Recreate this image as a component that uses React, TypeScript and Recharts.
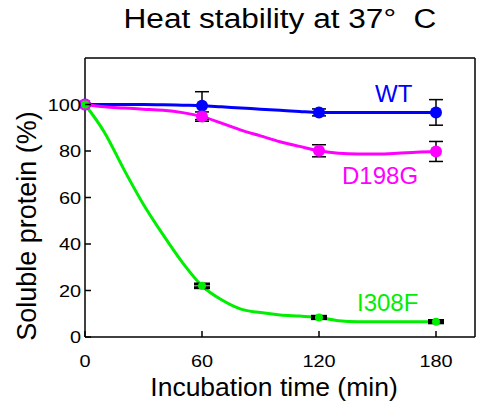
import React from 'react';
import { ComposedChart, Line, Scatter, ErrorBar, XAxis, YAxis, ReferenceLine } from 'recharts';

// measured points (time in min, soluble protein %, error)
const times = [0, 60, 120, 180];
const wtValues = [100, 99.5, 96.6, 96.6];
const wtErrors = [0, 6, 1.5, 5.5];
const d198gValues = [100, 94.8, 80.1, 79.8];
const d198gErrors = [0, 2, 2.6, 4.3];
const i308fValues = [100, 22, 8.4, 6.6];
const i308fErrors = [0, 0.8, 0.5, 0.5];

// smoothed curves
const curveTimes = [0, 10, 20, 30, 40, 50, 60, 70, 80, 90, 100, 110, 120, 130, 140, 150, 160, 170, 180];
const wtCurve = [100, 100, 100, 100, 99.9, 99.7, 99.5, 99, 98.5, 98, 97.5, 97, 96.6, 96.6, 96.6, 96.6, 96.6, 96.6, 96.6];
const d198gCurve = [100, 99, 98.5, 98, 97.5, 96.5, 94.8, 92, 89, 86.5, 84, 82, 80.1, 79, 78.7, 78.7, 79, 79.5, 79.8];
const i308fCurve = [100, 88, 72, 57, 44, 32, 22, 16, 12, 10.5, 9.5, 9, 8.4, 7, 6.6, 6.6, 6.6, 6.6, 6.6];

const xTicks = [0, 60, 120, 180];
const yTicks = [0, 20, 40, 60, 80, 100];

const points = (vals: number[], errs: number[]) => times.map((t, i) => ({ x: t, y: vals[i], err: errs[i] }));
const curve = (vals: number[]) => curveTimes.map((t, i) => ({ x: t, y: vals[i] }));

const FONT = '"Liberation Sans", Arial, sans-serif';
const STRETCH = 1.17;

const XTick = (p: any) => (
  <g>
    <line x1={p.x} y1={p.y} x2={p.x} y2={p.y - 6} stroke="#000" strokeWidth={1.5} />
    <text transform={`translate(${p.x},${p.y + 30}) scale(${STRETCH},1)`} textAnchor="middle" fontSize={17} fill="#000" fontFamily={FONT}>
      {p.payload.value}
    </text>
  </g>
);

const YTick = (p: any) => (
  <g>
    <line x1={p.x} y1={p.y} x2={p.x + 6} y2={p.y} stroke="#000" strokeWidth={1.5} />
    <text transform={`translate(${p.x - 4},${p.y + 6}) scale(${STRETCH},1)`} textAnchor="end" fontSize={17} fill="#000" fontFamily={FONT}>
      {p.payload.value}
    </text>
  </g>
);

const dot = (color: string, r: number) => (p: any) => <circle cx={p.cx} cy={p.cy} r={r} fill={color} />;

const App = () => {
  const label = (text: string, color: string, left: number, top: number, size: number) => (
    <div style={{ position: 'absolute', left, top, color, fontSize: size, fontFamily: FONT, lineHeight: 1, whiteSpace: 'nowrap' }}>{text}</div>
  );

  return (
    <div style={{ position: 'absolute', left: 0, top: 0, width: 477, height: 401, background: '#fff' }}>
      <ComposedChart width={477} height={401} data={curve(wtCurve)} margin={{ top: 58, right: 2, bottom: 0, left: 0 }}>
        <XAxis
          dataKey="x"
          type="number"
          domain={[0, 200]}
          ticks={xTicks}
          height={64}
          tickSize={0}
          tickMargin={0}
          tick={<XTick />}
          axisLine={{ stroke: '#000', strokeWidth: 1.5 }}
          label={{ value: 'Incubation time (min)', position: 'insideBottom', offset: 5, dx: -6, fontSize: 26.5, fill: '#000', fontFamily: FONT }}
        />
        <YAxis
          dataKey="y"
          type="number"
          domain={[0, 120]}
          ticks={yTicks}
          width={85}
          tickSize={0}
          tickMargin={0}
          tick={<YTick />}
          axisLine={{ stroke: '#000', strokeWidth: 1.5 }}
        />
        <ReferenceLine y={120} stroke="#000" strokeWidth={1.5} />
        <ReferenceLine x={200} stroke="#000" strokeWidth={1.5} />
        <Line data={curve(wtCurve)} dataKey="y" type="monotone" stroke="#0000ff" strokeWidth={3} dot={false} isAnimationActive={false} />
        <Line data={curve(d198gCurve)} dataKey="y" type="monotone" stroke="#ff00ff" strokeWidth={3} dot={false} isAnimationActive={false} />
        <Line data={curve(i308fCurve)} dataKey="y" type="monotone" stroke="#00ee00" strokeWidth={3} dot={false} isAnimationActive={false} />
        <Scatter data={points(wtValues, wtErrors)} dataKey="y" shape={dot('#0000ff', 6)} isAnimationActive={false}>
          <ErrorBar dataKey="err" direction="y" width={7} stroke="#000" strokeWidth={1.5} isAnimationActive={false} />
        </Scatter>
        <Scatter data={points(d198gValues, d198gErrors)} dataKey="y" shape={dot('#ff00ff', 6)} isAnimationActive={false}>
          <ErrorBar dataKey="err" direction="y" width={7} stroke="#000" strokeWidth={1.5} isAnimationActive={false} />
        </Scatter>
        <Scatter data={points(i308fValues, i308fErrors)} dataKey="y" shape={dot('#00ee00', 4)} isAnimationActive={false}>
          <ErrorBar dataKey="err" direction="y" width={8} stroke="#000" strokeWidth={3} isAnimationActive={false} />
        </Scatter>
      </ComposedChart>
      <div style={{ position: 'absolute', left: 85, width: 390, top: 6, textAlign: 'center', fontSize: 27, fontFamily: FONT, lineHeight: 1, transform: `scaleX(${STRETCH})`, whiteSpace: 'pre' }}>
        {'Heat stability at 37°  C'}
      </div>
      <div style={{ position: 'absolute', left: 27, top: 226, fontSize: 27, fontFamily: FONT, lineHeight: 1, whiteSpace: 'nowrap', transform: 'translate(-50%,-50%) rotate(-90deg)' }}>
        Soluble protein (%)
      </div>
      {label('WT', '#0000ff', 375, 82, 24)}
      {label('D198G', '#ff00ff', 342, 164, 24)}
      {label('I308F', '#00ee00', 357, 291, 24)}
    </div>
  );
};

export default App;
